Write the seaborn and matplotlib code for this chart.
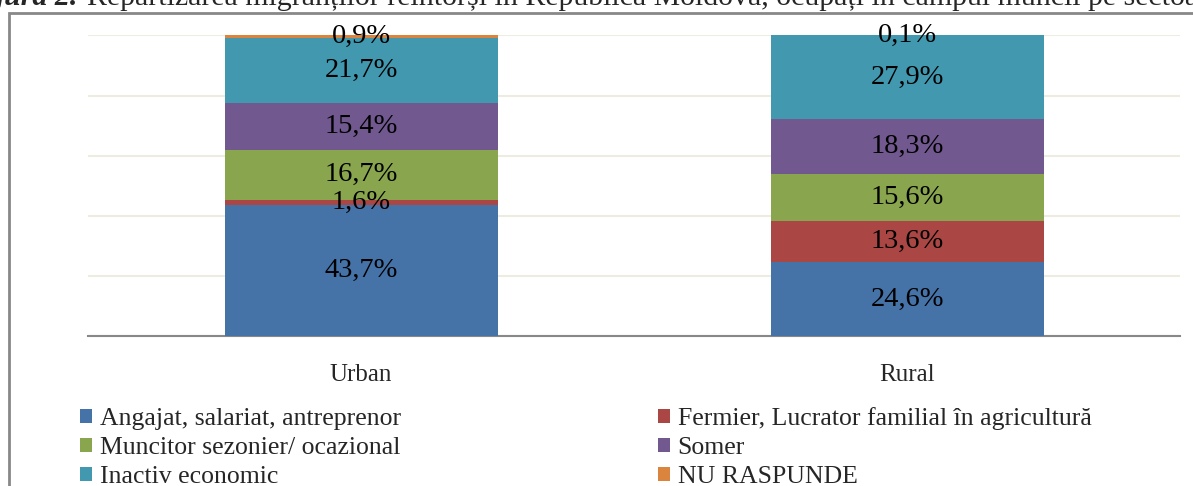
import numpy as np
import pandas as pd
import matplotlib.pyplot as plt
import seaborn as sns
from matplotlib.patches import Rectangle, Patch

# data
regions = ['Urban', 'Rural']
categories = ['Angajat, salariat, antreprenor',
              'Fermier, Lucrator familial în agricultură',
              'Muncitor sezonier/ ocazional',
              'Somer',
              'Inactiv economic',
              'NU RASPUNDE']
angajat = [43.7, 24.6]
fermier = [1.6, 13.6]
muncitor = [16.7, 15.6]
somer = [15.4, 18.3]
inactiv = [21.7, 27.9]
nu_raspunde = [0.9, 0.1]
colors = ['#4572A7', '#AA4643', '#89A54E', '#71588F', '#4198AF', '#DB843D']

series = [angajat, fermier, muncitor, somer, inactiv, nu_raspunde]
df = pd.DataFrame(np.array(series).T, index=regions, columns=categories)
cum = df.cumsum(axis=1)

sns.set_style('white')
plt.rcParams['font.family'] = ['Liberation Serif', 'DejaVu Serif']

fig = plt.figure(figsize=(11.93, 4.86), dpi=100)
W, H = 1193, 486
ax = fig.add_axes([88 / W, 1 - 336 / H, (1180 - 88) / W, (336 - 35.5) / H])

# stacked bars: draw cumulative totals from the top down
for i in range(len(categories) - 1, -1, -1):
    sns.barplot(x=regions, y=cum[categories[i]].values, color=colors[i],
                saturation=1, width=0.5, linewidth=0, ax=ax, zorder=3)

# value labels at segment centres
for j, reg in enumerate(regions):
    bottom = 0
    for i, cat in enumerate(categories):
        v = df.loc[reg, cat]
        ax.text(j, bottom + v / 2, f'{v:.1f}%'.replace('.', ','),
                ha='center', va='center', fontsize=20.5, color='black', zorder=5)
        bottom += v

ax.set_xlim(-0.5, 1.5)
ax.set_ylim(0, 100)
ax.set_yticks(np.arange(0, 101, 20))
ax.set_yticklabels([])
ax.tick_params(axis='y', length=0)
ax.grid(axis='y', color='#EEECE1', linewidth=1.5, zorder=0)
ax.set_axisbelow(True)
for s in ['left', 'right', 'top']:
    ax.spines[s].set_visible(False)
ax.spines['bottom'].set_color('#888888')
ax.spines['bottom'].set_linewidth(1.5)
ax.set_xticks([0, 1])
ax.set_xticklabels(regions, fontsize=18)
ax.tick_params(axis='x', which='major', length=0, pad=20)
ax.set_xticks([-0.5, 0.5, 1.5], minor=True)
ax.tick_params(axis='x', which='minor', length=7.5, width=1.5, color='#888888',
               direction='out')
ax.set_xlabel('')
ax.set_ylabel('')

# legend, filled column-wise
order = [0, 2, 4, 1, 3, 5]
handles = [Patch(facecolor=colors[k], edgecolor='none') for k in order]
labels = [categories[k] for k in order]
fig.legend(handles, labels, loc='upper left', bbox_to_anchor=(80 / W, 1 - 407 / H),
           ncol=2, frameon=False, fontsize=18.5, handlelength=0.47, handleheight=0.47,
           handletextpad=0.3, columnspacing=10.0, labelspacing=0.28,
           borderaxespad=0, borderpad=0)

# frame around the figure (cropped on the right and bottom)
fig.patches.append(Rectangle((9 / W, -0.1), 1.2, 1 - 13 / H + 0.1,
                             transform=fig.transFigure, fill=False,
                             edgecolor='#888888', linewidth=2))

# caption, cut off by the crop
fig.text(77 / W, 1 - 5 / H, 'Figura 2.', ha='right', va='baseline',
         fontsize=21.5, fontweight='bold', fontstyle='italic')
fig.text(87 / W, 1 - 5 / H,
         'Repartizarea migranților reîntorși în Republica Moldova, '
         'ocupați în câmpul muncii pe sectoare',
         ha='left', va='baseline', fontsize=21.5)

fig.savefig('out.png', dpi=100)
